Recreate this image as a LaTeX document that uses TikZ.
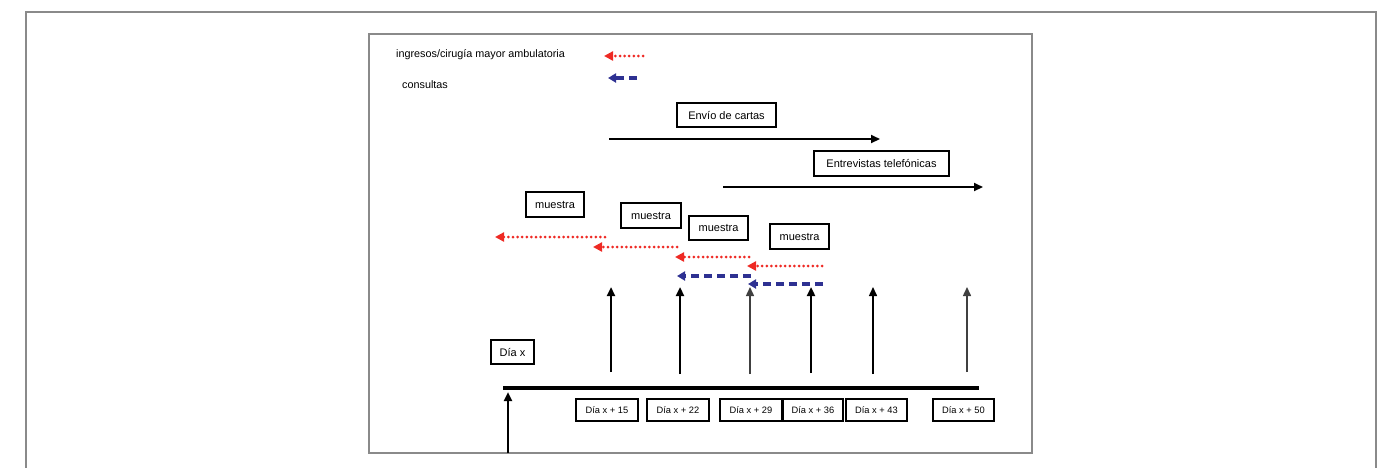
\documentclass[tikz,border=0pt]{standalone}
\usepackage{fontspec}
\setmainfont{Liberation Sans}
\usetikzlibrary{arrows.meta}
\definecolor{framegray}{HTML}{8A8A8A}
\definecolor{dotred}{HTML}{EE2A24}
\definecolor{dashblue}{HTML}{2E3192}
\begin{document}
\begin{tikzpicture}[x=1pt,y=-1pt,
  box/.style={draw,line width=1.1pt,inner sep=0pt,font=\fontsize{11}{13}\selectfont},
  thickbox/.style={box,line width=2.4pt},
  daybox/.style={draw,line width=1.1pt,inner sep=0pt,minimum height=22pt,font=\fontsize{9.3}{11}\selectfont},
  redarrow/.style={dotred,line width=3pt,line cap=round,dash pattern=on 0pt off 4.6pt,-{Triangle[length=9pt,width=9pt]}},
  bluearrow/.style={dashblue,line width=3.4pt,dash pattern=on 8pt off 5pt,-{Triangle[length=8pt,width=9pt]}},
  uparrow/.style={line width=2.3pt,-{Triangle[length=9pt,width=8pt]}},
  thinup/.style={line width=1.5pt,-{Triangle[length=9pt,width=8pt]}},
  hzarrow/.style={line width=2pt,-{Triangle[length=9pt,width=8pt]}}]
\useasboundingbox (0,0) rectangle (1384,467);
% frames
\draw[framegray,line width=1.6pt] (26,480) -- (26,12) -- (1376,12) -- (1376,480);
\draw[framegray,line width=1.3pt] (369,34) rectangle (1032,453);
% legend
\node[anchor=west,inner sep=0pt,font=\fontsize{10.8}{12}\selectfont] (lg1) at (396,55) {ingresos/cirugía mayor ambulatoria};
\node[anchor=west,inner sep=0pt,font=\fontsize{10.8}{12}\selectfont] (lg2) at (402,85) {consultas};
\coordinate (lr1) at (643,56); \coordinate (lr2) at (604,56);
\draw[redarrow] (lr1) -- (lr2);
\coordinate (lb1) at (637,78); \coordinate (lb2) at (608,78);
\draw[bluearrow] (lb1) -- (lb2);
% activity boxes
\node[box,minimum width=99pt,minimum height=24pt] (envio) at (726.5,115) {Envío de cartas};
\coordinate (ea) at (609,139); \coordinate (eb) at (880,139);
\draw[hzarrow] (ea) -- (eb);
\node[box,minimum width=135pt,minimum height=25pt] (entre) at (881.5,163.5) {Entrevistas telefónicas};
\coordinate (ta) at (723,187); \coordinate (tb) at (983,187);
\draw[hzarrow] (ta) -- (tb);
% muestra boxes
\node[thickbox,minimum width=58pt,minimum height=25pt] (m1) at (555,204.5) {muestra};
\node[thickbox,minimum width=60pt,minimum height=25pt] (m2) at (651,215.5) {muestra};
\node[box,minimum width=59pt,minimum height=24pt] (m3) at (718.5,228) {muestra};
\node[box,minimum width=59pt,minimum height=25pt] (m4) at (799.5,236.5) {muestra};
% red dotted arrows
\coordinate (r1a) at (605,237); \coordinate (r1b) at (495,237);
\coordinate (r2a) at (677,247); \coordinate (r2b) at (593,247);
\coordinate (r3a) at (749,257); \coordinate (r3b) at (675,257);
\coordinate (r4a) at (822,266); \coordinate (r4b) at (747,266);
\draw[redarrow] (r1a) -- (r1b);
\draw[redarrow] (r2a) -- (r2b);
\draw[redarrow] (r3a) -- (r3b);
\draw[redarrow] (r4a) -- (r4b);
% blue dashed arrows
\coordinate (b1a) at (751,276); \coordinate (b1b) at (677,276);
\coordinate (b2a) at (823,284); \coordinate (b2b) at (748,284);
\draw[bluearrow] (b1a) -- (b1b);
\draw[bluearrow] (b2a) -- (b2b);
% vertical arrows
\coordinate (v1b) at (611,372); \coordinate (v1t) at (611,287);
\coordinate (v2b) at (680,374); \coordinate (v2t) at (680,287);
\coordinate (v3b) at (750,374); \coordinate (v3t) at (750,287);
\coordinate (v4b) at (811,373); \coordinate (v4t) at (811,287);
\coordinate (v5b) at (873,374); \coordinate (v5t) at (873,287);
\coordinate (v6b) at (967,372); \coordinate (v6t) at (967,287);
\draw[uparrow] (v1b) -- (v1t);
\draw[uparrow] (v2b) -- (v2t);
\draw[thinup,black!75] (v3b) -- (v3t);
\draw[uparrow] (v4b) -- (v4t);
\draw[thinup] (v5b) -- (v5t);
\draw[thinup,black!75] (v6b) -- (v6t);
% Dia x
\node[box,minimum width=43pt,minimum height=24pt] (diax) at (512.5,352) {Día x};
\coordinate (tl1) at (503,388); \coordinate (tl2) at (979,388);
\draw[line width=4.2pt] (tl1) -- (tl2);
\coordinate (d0b) at (508,453); \coordinate (d0t) at (508,392);
\draw[uparrow] (d0b) -- (d0t);
% day boxes
\node[daybox,minimum width=62pt] (d15) at (607,410) {Día x + 15};
\node[daybox,minimum width=62pt] (d22) at (678,410) {Día x + 22};
\node[daybox,minimum width=62pt] (d29) at (751,410) {Día x + 29};
\node[daybox,minimum width=60pt] (d36) at (813,410) {Día x + 36};
\node[daybox,minimum width=61pt] (d43) at (876.5,410) {Día x + 43};
\node[daybox,minimum width=61pt] (d50) at (963.5,410) {Día x + 50};
\end{tikzpicture}
\end{document}
